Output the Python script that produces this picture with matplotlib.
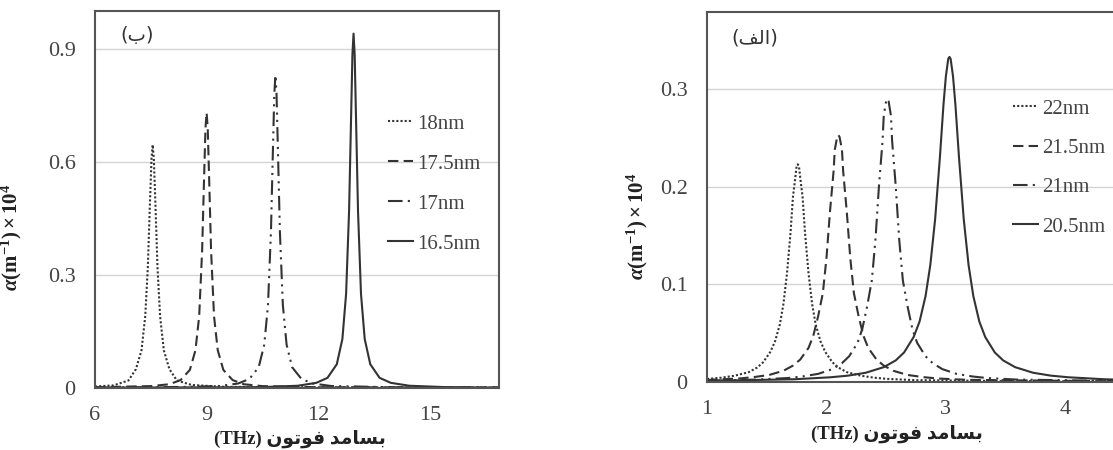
import numpy as np
import matplotlib
matplotlib.use('Agg')
import matplotlib.pyplot as plt

plt.rcParams['font.family'] = ['Liberation Serif', 'DejaVu Sans']
plt.rcParams['mathtext.fontset'] = 'custom'
plt.rcParams['mathtext.rm'] = 'Liberation Serif'
plt.rcParams['mathtext.it'] = 'Liberation Serif:italic'
plt.rcParams['mathtext.bf'] = 'Liberation Serif:bold'
plt.rcParams['mathtext.bfit'] = 'Liberation Serif:italic:bold'

#-------------------------------------#
#       داده ها - پنل (ب)
#-------------------------------------#
b_labels = ['18nm', '17.5nm', '17nm', '16.5nm']
b_x1 = [6.0, 6.5, 6.9, 7.1, 7.25, 7.35, 7.42, 7.48, 7.52, 7.55, 7.58, 7.62, 7.68, 7.75, 7.85, 8.0, 8.2, 8.6, 9.5, 12.0, 16.9]
b_y1 = [0.004, 0.007, 0.02, 0.05, 0.10, 0.19, 0.32, 0.50, 0.61, 0.645, 0.61, 0.50, 0.32, 0.19, 0.10, 0.05, 0.02, 0.008, 0.003, 0.002, 0.001]
b_x2 = [6.0, 7.5, 8.0, 8.3, 8.55, 8.7, 8.8, 8.88, 8.93, 8.97, 9.0, 9.03, 9.07, 9.12, 9.2, 9.3, 9.45, 9.7, 10.0, 10.5, 12.0, 16.9]
b_y2 = [0.002, 0.005, 0.010, 0.021, 0.048, 0.10, 0.19, 0.365, 0.55, 0.69, 0.73, 0.69, 0.55, 0.365, 0.19, 0.10, 0.048, 0.021, 0.010, 0.005, 0.002, 0.001]
b_x3 = [6.0, 8.5, 9.35, 9.85, 10.15, 10.4, 10.55, 10.65, 10.73, 10.78, 10.82, 10.85, 10.88, 10.92, 10.97, 11.05, 11.15, 11.3, 11.55, 11.85, 12.35, 14.0, 16.9]
b_y3 = [0.001, 0.003, 0.0053, 0.012, 0.024, 0.055, 0.115, 0.22, 0.415, 0.62, 0.78, 0.83, 0.78, 0.62, 0.415, 0.22, 0.115, 0.055, 0.024, 0.012, 0.0053, 0.002, 0.001]
b_x4 = [6.0, 10.45, 11.45, 11.95, 12.25, 12.5, 12.65, 12.75, 12.83, 12.88, 12.92, 12.95, 12.98, 13.02, 13.07, 13.15, 13.25, 13.4, 13.65, 13.95, 14.45, 15.45, 16.9]
b_y4 = [0.001, 0.0022, 0.006, 0.0137, 0.027, 0.063, 0.13, 0.25, 0.47, 0.70, 0.885, 0.94, 0.885, 0.70, 0.47, 0.25, 0.13, 0.063, 0.027, 0.0137, 0.006, 0.0022, 0.001]
b_xticks = [6, 9, 12, 15]
b_yticks = [0, 0.3, 0.6, 0.9]
b_yticklabels = ['0', '0.3', '0.6', '0.9']

#-------------------------------------#
#       داده ها - پنل (الف)
#-------------------------------------#
a_labels = ['22nm', '21.5nm', '21nm', '20.5nm']
a_x1 = [1.0, 1.12, 1.23, 1.35, 1.42, 1.47, 1.53, 1.57, 1.61, 1.64, 1.67, 1.70, 1.72, 1.74, 1.75, 1.76,
        1.77, 1.78, 1.80, 1.82, 1.85, 1.88, 1.91, 1.95, 1.99, 2.05, 2.10, 2.17, 2.29, 2.40, 2.51, 2.74, 3.5, 4.6]
a_y1 = [0.0031, 0.0044, 0.0064, 0.0101, 0.0148, 0.0202, 0.0308, 0.0417, 0.059, 0.080, 0.1115, 0.154, 0.190, 0.210, 0.221, 0.223,
        0.221, 0.210, 0.190, 0.154, 0.1115, 0.080, 0.059, 0.0417, 0.0308, 0.0202, 0.0148, 0.0101, 0.0064, 0.0044, 0.0032, 0.0019, 0.001, 0.0005]
a_x2 = [1.0, 1.27, 1.39, 1.52, 1.64, 1.72, 1.78, 1.85, 1.89, 1.93, 1.97, 2.00, 2.03, 2.06, 2.07, 2.09, 2.10,
        2.11, 2.13, 2.14, 2.17, 2.20, 2.23, 2.27, 2.31, 2.35, 2.42, 2.48, 2.56, 2.68, 2.81, 2.93, 3.18, 4.6]
a_y2 = [0.0021, 0.0036, 0.0050, 0.0072, 0.0115, 0.0168, 0.0229, 0.0349, 0.0473, 0.067, 0.091, 0.1265, 0.175, 0.216, 0.238, 0.251, 0.253,
        0.251, 0.238, 0.216, 0.175, 0.1265, 0.091, 0.067, 0.0473, 0.0349, 0.0229, 0.0168, 0.0115, 0.0072, 0.0050, 0.0036, 0.0022, 0.0005]
a_x3 = [1.0, 1.43, 1.68, 1.80, 1.93, 2.05, 2.13, 2.19, 2.26, 2.30, 2.34, 2.38, 2.41, 2.44, 2.47, 2.48, 2.50, 2.51,
        2.52, 2.54, 2.55, 2.58, 2.61, 2.64, 2.68, 2.72, 2.76, 2.83, 2.89, 2.97, 3.09, 3.22, 3.34, 3.59, 4.6]
a_y3 = [0.0013, 0.0025, 0.0041, 0.0057, 0.0083, 0.0132, 0.0193, 0.0263, 0.040, 0.0542, 0.077, 0.104, 0.145, 0.201, 0.247, 0.273, 0.288, 0.29,
        0.288, 0.273, 0.247, 0.201, 0.145, 0.104, 0.077, 0.0542, 0.040, 0.0263, 0.0193, 0.0132, 0.0083, 0.0057, 0.0041, 0.0025, 0.0008]
a_x4 = [1.0, 1.73, 2.03, 2.18, 2.33, 2.48, 2.58, 2.65, 2.73, 2.78, 2.83, 2.87, 2.91, 2.95, 2.98, 3.00, 3.02, 3.03,
        3.04, 3.06, 3.08, 3.11, 3.15, 3.19, 3.23, 3.28, 3.33, 3.41, 3.48, 3.58, 3.73, 3.88, 4.03, 4.33, 4.6]
a_y4 = [0.0012, 0.0028, 0.0048, 0.0065, 0.0095, 0.0152, 0.0221, 0.0302, 0.046, 0.062, 0.088, 0.120, 0.1665, 0.230, 0.284, 0.313, 0.331, 0.333,
        0.331, 0.313, 0.284, 0.230, 0.1665, 0.120, 0.088, 0.062, 0.046, 0.0302, 0.0221, 0.0152, 0.0095, 0.0065, 0.0048, 0.0028, 0.0019]
a_xticks = [1, 2, 3, 4]
a_yticks = [0, 0.1, 0.2, 0.3]
a_yticklabels = ['0', '0.1', '0.2', '0.3']

# متن فارسی به صورت دستی شکل داده شده (matplotlib راست به چپ ندارد)
xlabel_txt = '(THz) ' + '\uFEE5\uFEEE\uFE97\uFEEE\uFED3' + ' ' + '\uFEAA\uFEE3\uFE8E\uFEB4\uFE91'
tag_b = '(\uFE8F)'
tag_a = '(\uFED2\uFEDF\uFE8D)'
ylabel_txt = r'$\mathbfit{\alpha}\mathbf{(m^{-1})\times10^{4}}$'

styles = [(0, (1, 1)), (0, (5, 2.5)), (0, (7, 2.5, 1, 2.5, 1, 2.5)), '-']
lc = '#333333'
W, H = 1113, 450

fig = plt.figure(figsize=(W / 100, H / 100), dpi=100)
ax_b = fig.add_axes([95 / W, 1 - 388 / H, 404 / W, 377 / H])
ax_a = fig.add_axes([707 / W, 1 - 382 / H, 418 / W, 370 / H])


def style_ax(ax, xticks, yticks, yticklabels):
    ax.set_xticks(xticks)
    ax.set_yticks(yticks)
    ax.set_yticklabels(yticklabels)
    ax.tick_params(length=0, labelsize=16, labelcolor='#444444')
    ax.tick_params(axis='y', pad=14)
    ax.tick_params(axis='x', pad=13)
    ax.grid(axis='y', color='#d4d4d4', lw=1)
    ax.set_axisbelow(True)
    for s in ax.spines.values():
        s.set_color('#555555')
        s.set_linewidth(1.5)
    ax.set_xlabel(xlabel_txt, fontsize=13.5, fontweight='bold', color='#222222',
                  family=['Liberation Serif', 'DejaVu Sans'])
    ax.set_ylabel(ylabel_txt, fontsize=15, color='#222222')


# پنل (ب)
for x, y, ls, lab in zip([b_x1, b_x2, b_x3, b_x4], [b_y1, b_y2, b_y3, b_y4], styles, b_labels):
    ax_b.plot(x, y, ls=ls, color=lc, lw=1.5, label=lab)
ax_b.set_xlim(6, 16.86)
ax_b.set_ylim(0, 1.0)
style_ax(ax_b, b_xticks, b_yticks, b_yticklabels)
ax_b.xaxis.set_label_coords(0.507, -0.11)
ax_b.yaxis.set_label_coords(-0.175, 0.40)
ax_b.text(0.104, 0.934, tag_b, transform=ax_b.transAxes, ha='center', va='center',
          fontsize=14, color='#333333', family=['DejaVu Sans'])
ax_b.legend(loc='upper left', bbox_to_anchor=(0.725, 0.727), frameon=False, fontsize=15,
            handlelength=1.2, handletextpad=0.2, labelspacing=0.98, borderpad=0,
            borderaxespad=0, labelcolor='#444444')

# پنل (الف)
for x, y, ls, lab in zip([a_x1, a_x2, a_x3, a_x4], [a_y1, a_y2, a_y3, a_y4], styles, a_labels):
    ax_a.plot(x, y, ls=ls, color=lc, lw=1.5, label=lab)
ax_a.set_xlim(1, 4.5)
ax_a.set_ylim(0, 0.379)
style_ax(ax_a, a_xticks, a_yticks, a_yticklabels)
ax_a.xaxis.set_label_coords(0.455, -0.115)
ax_a.yaxis.set_label_coords(-0.137, 0.42)
ax_a.text(0.115, 0.93, tag_a, transform=ax_a.transAxes, ha='center', va='center',
          fontsize=14, color='#333333', family=['DejaVu Sans'])
ax_a.legend(loc='upper left', bbox_to_anchor=(0.732, 0.765), frameon=False, fontsize=15,
            handlelength=1.2, handletextpad=0.2, labelspacing=0.95, borderpad=0,
            borderaxespad=0, labelcolor='#444444')

fig.savefig('out.png', dpi=100)
